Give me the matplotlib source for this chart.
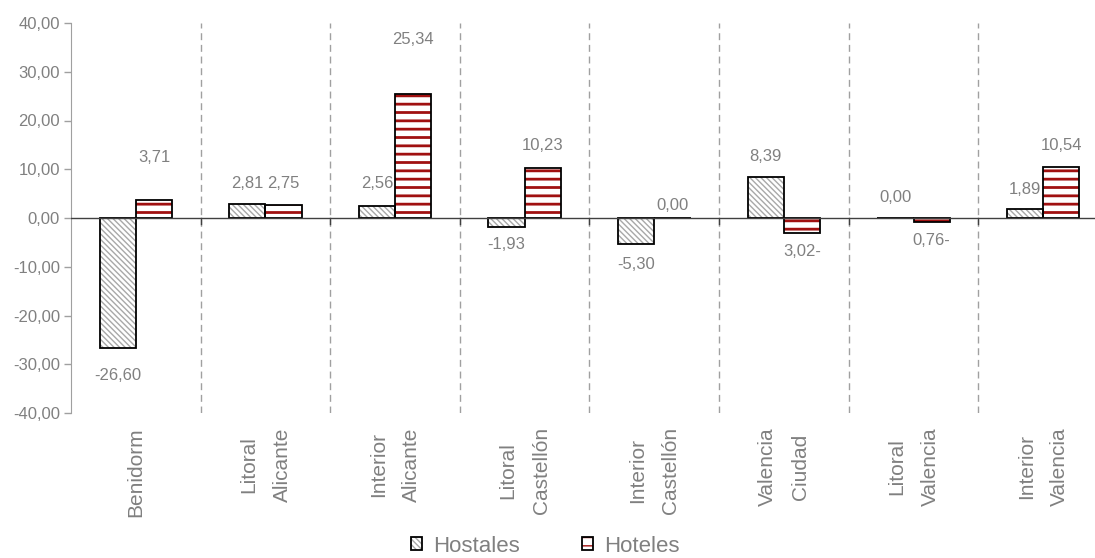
import numpy as np
import matplotlib.pyplot as plt
from matplotlib.patches import Patch
from matplotlib.legend_handler import HandlerTuple

plt.rcParams['font.family'] = ['Liberation Sans', 'DejaVu Sans']

# data
zonas = ['Benidorm', 'Litoral\nAlicante', 'Interior\nAlicante', 'Litoral\nCastellón',
         'Interior\nCastellón', 'Valencia\nCiudad', 'Litoral\nValencia', 'Interior\nValencia']
hostales = [-26.60, 2.81, 2.56, -1.93, -5.30, 8.39, 0.00, 1.89]
hoteles = [3.71, 2.75, 25.34, 10.23, 0.00, -3.02, -0.76, 10.54]
hostales_txt = ['-26,60', '2,81', '2,56', '-1,93', '-5,30', '8,39', '0,00', '1,89']
hoteles_txt = ['3,71', '2,75', '25,34', '10,23', '0,00', '3,02-', '0,76-', '10,54']

# where the value labels sit (y, data units), as in the original
hostales_lab_y = [-32.4, 7.0, 7.0, -5.5, -9.6, 12.7, 4.3, 5.9]
hoteles_lab_y = [12.5, 7.0, 36.7, 14.8, 2.5, -6.8, -4.7, 14.8]

GRAY = '#808080'
RED = '#a01010'
HATCH_H = '\\' * 6

fig = plt.figure(figsize=(10.95, 5.58), dpi=100)
ax = fig.add_axes([71 / 1095, 1 - 413 / 558, 1 - 71 / 1095, (413 - 23) / 558])

x = np.arange(len(zonas))
w = 0.28

# hostales: grey diagonal hatch, black outline
ax.bar(x - w / 2, hostales, w, facecolor='white', edgecolor='#a8a8a8',
       hatch=HATCH_H, linewidth=0, zorder=2)
ax.bar(x - w / 2, hostales, w, facecolor='none', edgecolor='black',
       linewidth=1.3, zorder=3)
# hoteles: dark red horizontal stripes, black outline
with plt.rc_context({'hatch.linewidth': 2.0}):
    ax.bar(x + w / 2, hoteles, w, facecolor='white', edgecolor=RED,
           hatch='--', linewidth=0, zorder=2)
ax.bar(x + w / 2, hoteles, w, facecolor='none', edgecolor='black',
       linewidth=1.3, zorder=3)

for i in range(len(zonas)):
    ax.text(x[i] - w / 2, hostales_lab_y[i], hostales_txt[i], ha='center',
            va='center', fontsize=12, color=GRAY)
    ax.text(x[i] + w / 2, hoteles_lab_y[i], hoteles_txt[i], ha='center',
            va='center', fontsize=12, color=GRAY)

# dashed separators and zero line
for b in x[1:] - 0.5:
    ax.axvline(b, color='#a0a0a0', lw=1, dashes=(5, 3.4), zorder=1)
    ax.plot([b, b], [0, -1.3], color='#404040', lw=1, zorder=4)
ax.axhline(0, color='#404040', lw=1, zorder=4)

ax.set_xlim(-0.5, 7.4)
ax.set_ylim(-40, 40)
ax.set_yticks(np.arange(-40, 41, 10))
ax.set_yticklabels([f'{v:.2f}'.replace('.', ',') for v in np.arange(-40, 41, 10)])
ax.tick_params(axis='y', colors='#a0a0a0', labelcolor=GRAY, labelsize=12,
               length=5, width=1, pad=3)
ax.set_xticks([])
for s in ['top', 'right', 'bottom']:
    ax.spines[s].set_visible(False)
ax.spines['left'].set_color('#a0a0a0')

# category labels under the plot
for i, z in enumerate(zonas):
    ax.text(x[i], -42.9, z, rotation=90, ha='center', va='top',
            multialignment='center', linespacing=1.95, fontsize=15,
            color=GRAY, clip_on=False)

# legend
h_host = (Patch(facecolor='white', edgecolor='#a8a8a8', hatch=HATCH_H, lw=0),
          Patch(facecolor='none', edgecolor='black', lw=1.3))
h_hot = (Patch(facecolor='white', edgecolor=RED, hatch='--', lw=0),
         Patch(facecolor='none', edgecolor='black', lw=1.3))
fig.legend([h_host, h_hot], ['Hostales', 'Hoteles'],
           handler_map={tuple: HandlerTuple(ndivide=1)},
           loc='center', bbox_to_anchor=(545 / 1095, 1 - 546 / 558), ncol=2,
           frameon=False, fontsize=16, labelcolor=GRAY, handlelength=0.5,
           handleheight=0.5, handletextpad=0.5, columnspacing=2.8,
           borderpad=0)

fig.savefig('out.png', dpi=100)
